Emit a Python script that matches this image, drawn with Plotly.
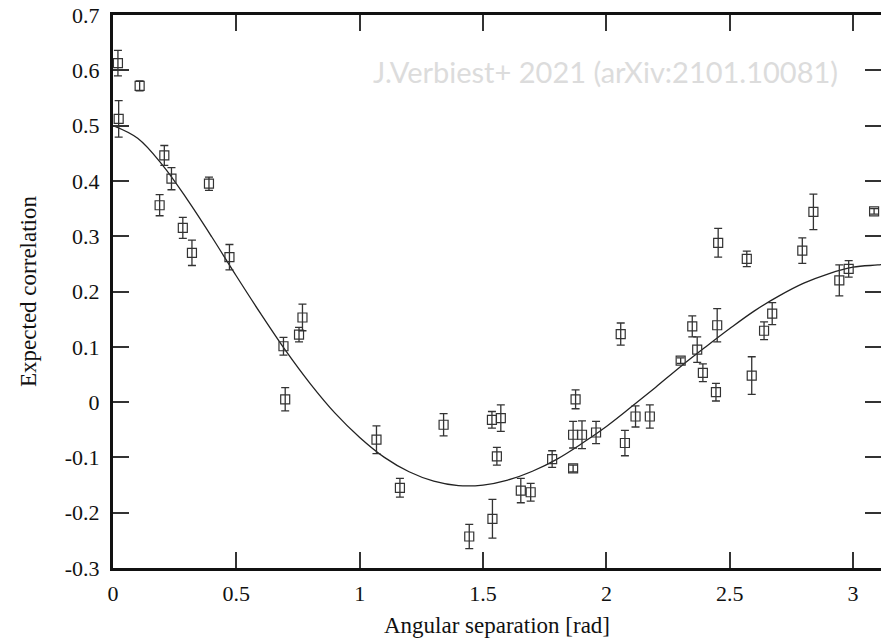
import plotly.graph_objects as go

# Measured cross-correlations vs. pulsar-pair angular separation
sep_rad = [0.020, 0.108, 0.023, 0.208, 0.237, 0.189, 0.389, 0.283, 0.320, 0.472,
           0.768, 0.754, 0.691, 0.698, 1.068, 1.163, 1.340, 1.444, 1.536, 1.572,
           1.556, 1.538, 1.653, 1.693, 1.780, 1.875, 1.865, 1.901, 1.865, 1.958,
           2.075, 2.058, 2.118, 2.176, 2.301, 2.348, 2.368, 2.391, 2.444, 2.449,
           2.453, 2.569, 2.589, 2.639, 2.672, 2.794, 2.839, 2.944, 2.982, 3.085]
corr = [0.613, 0.572, 0.512, 0.446, 0.404, 0.356, 0.395, 0.315, 0.270, 0.262,
        0.153, 0.122, 0.101, 0.005, -0.068, -0.155, -0.041, -0.243, -0.032, -0.029,
        -0.098, -0.211, -0.160, -0.163, -0.103, 0.005, -0.059, -0.059, -0.120, -0.055,
        -0.074, 0.123, -0.026, -0.026, 0.075, 0.137, 0.095, 0.053, 0.018, 0.139,
        0.288, 0.259, 0.048, 0.129, 0.160, 0.274, 0.344, 0.220, 0.241, 0.345]
corr_err = [0.023, 0.009, 0.033, 0.018, 0.020, 0.019, 0.012, 0.019, 0.023, 0.023,
            0.024, 0.013, 0.016, 0.021, 0.025, 0.017, 0.020, 0.022, 0.015, 0.024,
            0.016, 0.035, 0.022, 0.016, 0.015, 0.017, 0.024, 0.025, 0.006, 0.020,
            0.023, 0.020, 0.019, 0.021, 0.005, 0.019, 0.023, 0.016, 0.016, 0.030,
            0.026, 0.014, 0.034, 0.016, 0.020, 0.023, 0.032, 0.028, 0.015, 0.005]

# Expected (Hellings-Downs) curve, sampled every 0.1 rad
curve_x = [0.0, 0.1, 0.2, 0.3, 0.4, 0.5, 0.6, 0.7, 0.8, 0.9, 1.0, 1.1, 1.2, 1.3,
           1.4, 1.5, 1.6, 1.7, 1.8, 1.9, 2.0, 2.1, 2.2, 2.3, 2.4, 2.5, 2.6, 2.7,
           2.8, 2.9, 3.0, 3.1, 3.14]
curve_y = [0.500, 0.477, 0.429, 0.367, 0.299, 0.228, 0.159, 0.093, 0.033, -0.020,
           -0.064, -0.100, -0.126, -0.143, -0.151, -0.150, -0.141, -0.125, -0.103,
           -0.075, -0.044, -0.009, 0.027, 0.064, 0.099, 0.133, 0.165, 0.192, 0.215,
           0.232, 0.244, 0.248, 0.250]

x_ticks = [0, 0.5, 1, 1.5, 2, 2.5, 3]
x_tick_text = ["0", "0.5", "1", "1.5", "2", "2.5", "3"]
y_ticks = [-0.3, -0.2, -0.1, 0, 0.1, 0.2, 0.3, 0.4, 0.5, 0.6, 0.7]
y_tick_text = ["-0.3", "-0.2", "-0.1", "0", "0.1", "0.2", "0.3", "0.4", "0.5", "0.6", "0.7"]

serif = "Liberation Serif, Times New Roman, DejaVu Serif, serif"
ink = "#111111"

fig = go.Figure()

fig.add_trace(go.Scatter(
    x=curve_x, y=curve_y, mode="lines", line_shape="spline",
    line=dict(color="#222222", width=1.3), hoverinfo="skip", showlegend=False,
))

fig.add_trace(go.Scatter(
    x=sep_rad, y=corr, mode="markers",
    marker=dict(symbol="square-open", size=9, color="#333333", line=dict(width=1.2)),
    error_y=dict(type="data", array=corr_err, visible=True, color="#333333",
                 thickness=1.3, width=4),
    showlegend=False,
))

# right-hand tick marks (no axis line)
fig.add_trace(go.Scatter(x=[None], y=[None], yaxis="y2", showlegend=False, hoverinfo="skip"))

x_max = 3.113
fig.update_layout(
    width=881, height=642,
    margin=dict(l=113, r=0, t=15, b=74),
    paper_bgcolor="white", plot_bgcolor="white",
    font=dict(family=serif, size=22, color=ink),
    xaxis=dict(
        range=[0, x_max], tickvals=x_ticks, ticktext=x_tick_text,
        ticks="inside", ticklen=16, tickwidth=1.5, tickcolor="#333333",
        showline=True, linewidth=3, linecolor=ink, mirror="ticks",
        showgrid=False, zeroline=False, ticklabelstandoff=4,
        tickfont=dict(family=serif, size=22, color=ink),
        title=dict(text="Angular separation [rad]", font=dict(family=serif, size=23, color=ink), standoff=12),
    ),
    yaxis=dict(
        range=[-0.3, 0.7], tickvals=y_ticks, ticktext=y_tick_text,
        ticks="inside", ticklen=16, tickwidth=1.5, tickcolor="#333333",
        showline=True, linewidth=3, linecolor=ink, mirror=False,
        showgrid=False, zeroline=False, ticklabelstandoff=6,
        tickfont=dict(family=serif, size=22, color=ink),
        title=dict(text="Expected correlation", font=dict(family=serif, size=23, color=ink), standoff=22),
    ),
    yaxis2=dict(
        range=[-0.3, 0.7], tickvals=y_ticks, overlaying="y", side="right",
        ticks="inside", ticklen=16, tickwidth=1.5, tickcolor="#333333",
        showline=False, showticklabels=False, showgrid=False, zeroline=False,
    ),
    annotations=[dict(
        text="J.Verbiest+ 2021 (arXiv:2101.10081)",
        xref="paper", yref="paper", x=0.947, y=0.897,
        xanchor="right", yanchor="middle", showarrow=False,
        font=dict(family="Lato", size=29, color="#dcdcdc"),
    )],
)

fig.write_html("out.html")
